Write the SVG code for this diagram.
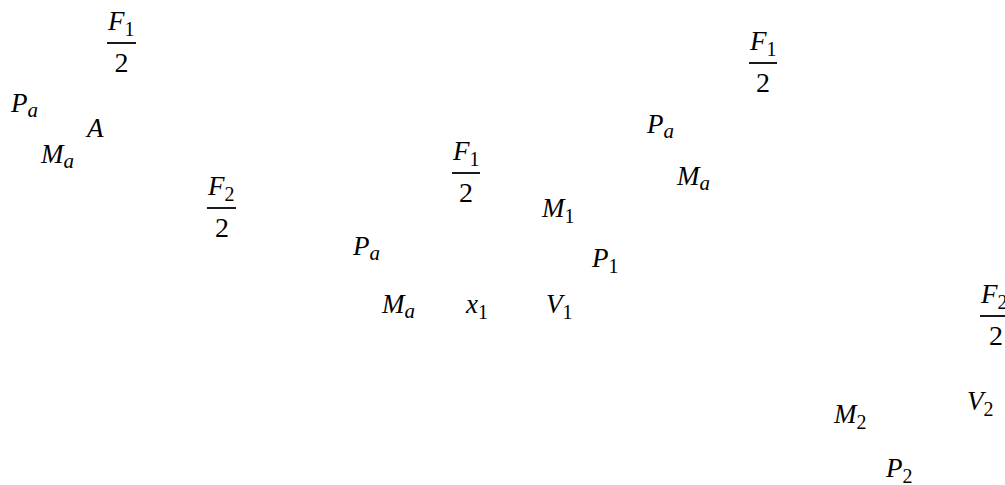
<svg xmlns="http://www.w3.org/2000/svg" width="1005" height="485" viewBox="0 0 1005 485">
<style>
text{font-family:"Liberation Serif","DejaVu Serif",serif;font-size:27px;fill:#000}
.i{font-style:italic}
.s{font-size:20px;font-style:normal}
.si{font-size:21px;font-style:italic}
.bar{stroke:#000;stroke-width:1.8}
.c{text-anchor:middle;font-size:28px}
</style>
<rect width="1005" height="485" fill="#fff"/>
<g id="frac-F1-a">
<text x="108" y="30" class="i">F<tspan class="s" dy="6">1</tspan></text>
<line class="bar" x1="107" y1="43" x2="136" y2="43"/>
<text x="121.5" y="72" class="c">2</text>
</g>
<g id="Pa-1"><text x="11" y="112" class="i">P<tspan class="si" dy="5">a</tspan></text></g>
<g id="A"><text x="87" y="137" class="i">A</text></g>
<g id="Ma-1"><text x="41" y="163" class="i">M<tspan class="si" dy="5">a</tspan></text></g>
<g id="frac-F2-a">
<text x="208" y="195" class="i">F<tspan class="s" dy="6">2</tspan></text>
<line class="bar" x1="207" y1="208" x2="236" y2="208"/>
<text x="222" y="237" class="c">2</text>
</g>
<g id="frac-F1-b">
<text x="453" y="160" class="i">F<tspan class="s" dy="6">1</tspan></text>
<line class="bar" x1="452" y1="173" x2="480" y2="173"/>
<text x="466" y="202" class="c">2</text>
</g>
<g id="Pa-2"><text x="353" y="255" class="i">P<tspan class="si" dy="5">a</tspan></text></g>
<g id="Ma-2"><text x="382" y="313" class="i">M<tspan class="si" dy="5">a</tspan></text></g>
<g id="x1"><text x="466" y="313" class="i">x<tspan class="s" dy="6">1</tspan></text></g>
<g id="M1"><text x="542" y="217" class="i">M<tspan class="s" dy="6">1</tspan></text></g>
<g id="P1"><text x="592" y="267" class="i">P<tspan class="s" dy="6">1</tspan></text></g>
<g id="V1"><text x="546" y="313" class="i">V<tspan class="s" dy="6">1</tspan></text></g>
<g id="frac-F1-c">
<text x="750" y="50" class="i">F<tspan class="s" dy="6">1</tspan></text>
<line class="bar" x1="749" y1="63" x2="777" y2="63"/>
<text x="763" y="92" class="c">2</text>
</g>
<g id="Pa-3"><text x="647" y="133" class="i">P<tspan class="si" dy="5">a</tspan></text></g>
<g id="Ma-3"><text x="677" y="185" class="i">M<tspan class="si" dy="5">a</tspan></text></g>
<g id="frac-F2-b">
<text x="981" y="303" class="i">F<tspan class="s" dy="6">2</tspan></text>
<line class="bar" x1="980" y1="316" x2="1009" y2="316"/>
<text x="996" y="345" class="c">2</text>
</g>
<g id="M2"><text x="834" y="423" class="i">M<tspan class="s" dy="6">2</tspan></text></g>
<g id="V2"><text x="967" y="410" class="i">V<tspan class="s" dy="6">2</tspan></text></g>
<g id="P2"><text x="886" y="477" class="i">P<tspan class="s" dy="6">2</tspan></text></g>
<g id="connectors"/>
</svg>
